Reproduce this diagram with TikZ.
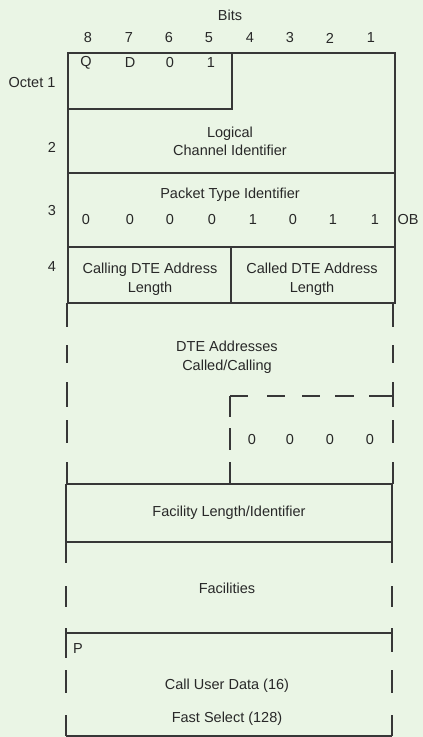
\documentclass[tikz,border=0pt]{standalone}
\usepackage{fontspec}
\setmainfont{Liberation Sans}
\definecolor{bg}{RGB}{234,245,229}
\definecolor{ink}{RGB}{55,55,55}
\definecolor{txt}{RGB}{40,40,40}
\begin{document}
\begin{tikzpicture}[x=1pt,y=-1pt,
  ln/.style={draw=ink,line width=1.1pt},
  lbl/.style={text=txt,font=\fontsize{14.5}{19}\selectfont,inner sep=0pt,align=center}]
\fill[bg] (0,0) rectangle (423,737);
\useasboundingbox (0,0) rectangle (423,737);
% ---- top section
\coordinate (tl) at (68,53); \coordinate (tr) at (395,53);
\coordinate (bl4) at (68,303); \coordinate (br4) at (395,303);
\draw[ln] (tl) -- (tr) -- (br4) -- (bl4) -- cycle;
\draw[ln] (68,109) -- (232,109) -- (232,53);
\draw[ln] (68,173) -- (395,173);
\draw[ln] (68,247) -- (395,247);
\draw[ln] (231,247) -- (231,303);
% ---- middle section (DTE addresses)
\foreach \a/\b in {303/327,345/363,382/407,420/443,462/484}{
  \draw[ln] (67,\a) -- (67,\b);
  \draw[ln] (393,\a) -- (393,\b);}
\foreach \a/\b in {230/248,267/285,302/320,335/354,369/393}{
  \draw[ln] (\a,396) -- (\b,396);}
\foreach \a/\b in {396/417,428/450,462/484}{
  \draw[ln] (230,\a) -- (230,\b);}
\draw[ln] (67,484) -- (393,484);
% ---- bottom section
\draw[ln] (66,484) -- (66,542);
\draw[ln] (392,484) -- (392,542);
\draw[ln] (66,542) -- (392,542);
\foreach \a/\b in {542/563,586/607,628/658,670/693,715/736}{
  \draw[ln] (66,\a) -- (66,\b);}
\foreach \a/\b in {542/563,586/607,628/652,670/693,715/736}{
  \draw[ln] (392,\a) -- (392,\b);}
\draw[ln] (66,633) -- (392,633);
\draw[ln] (66,736) -- (392,736);
% ---- texts
\node[lbl] (bits) at (230,15) {Bits};
\foreach \n/\x in {8/88,7/129,6/169,5/209,4/250,3/290,2/330,1/371}{
  \node[lbl] (b\n) at (\x,38) {\n};}
\node[lbl] (oct1) at (32,83) {Octet 1};
\node[lbl] (q) at (86,63) {Q};
\node[lbl] (d) at (130,63) {D};
\node[lbl] (z6) at (170,63) {0};
\node[lbl] (o5) at (211,63) {1};
\node[lbl] (oct2) at (52,147) {2};
\node[lbl] (lci) at (230,141) {Logical\\[-1pt]Channel Identifier};
\node[lbl] (oct3) at (52,211) {3};
\node[lbl] (pti) at (230,195) {Packet Type Identifier};
\foreach \v/\x [count=\i] in {0/86,0/130,0/170,0/212,1/253,0/293,1/333,1/375}{
  \node[lbl] (p\i) at (\x,220) {\v};}
\node[lbl] (ob) at (408,220) {OB};
\node[lbl] (oct4) at (52,267) {4};
\node[lbl] (cgl) at (150,279) {Calling DTE Address\\Length};
\node[lbl] (cdl) at (312,279) {Called DTE Address\\Length};
\node[lbl] (dte) at (227,357) {DTE Addresses\\Called/Calling};
\foreach \x [count=\i] in {252,290,330,370}{
  \node[lbl] (zz\i) at (\x,440) {0};}
\node[lbl] (fli) at (229,513) {Facility Length/Identifier};
\node[lbl] (fac) at (227,588) {Facilities};
\node[lbl] (pp) at (78,649) {P};
\node[lbl] (cud) at (227,686) {Call User Data (16)};
\node[lbl] (fs) at (227,719) {Fast Select (128)};
\end{tikzpicture}
\end{document}
